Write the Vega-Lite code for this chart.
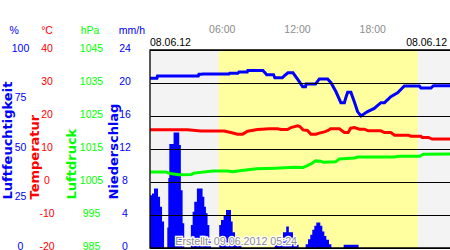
{
  "$schema": "https://vega.github.io/schema/vega-lite/v6.json",
  "width": 301,
  "height": 198,
  "autosize": {"type": "none"},
  "padding": {"left": 150, "top": 50, "right": 0, "bottom": 2},
  "background": "white",
  "config": {
    "view": {"stroke": null},
    "font": "Liberation Sans",
    "axis": {"labelFont": "Liberation Sans", "titleFont": "DejaVu Sans"},
    "text": {"font": "Liberation Sans", "fontSize": 10.5, "baseline": "middle"}
  },
  "datasets": {
    "bands": [
      {"from": 0, "to": 24, "band": "Nacht"},
      {"from": 5.47, "to": 21.35, "band": "Tag"}
    ],
    "hours": [
      {"t": 6, "label": "06:00"},
      {"t": 12, "label": "12:00"},
      {"t": 18, "label": "18:00"}
    ],
    "humidity": [
      {"t": 0, "v": 85.7}, {"t": 0.55, "v": 85.7}, {"t": 0.6, "v": 86.9}, {"t": 3.85, "v": 86.9},
      {"t": 3.9, "v": 87.7}, {"t": 4.1, "v": 87.7}, {"t": 4.2, "v": 87.9}, {"t": 6.3, "v": 87.9},
      {"t": 6.35, "v": 88.2}, {"t": 7.0, "v": 88.2}, {"t": 7.1, "v": 88.9}, {"t": 7.75, "v": 88.9},
      {"t": 7.8, "v": 89.7}, {"t": 9.0, "v": 89.7}, {"t": 9.15, "v": 88.7}, {"t": 9.3, "v": 87.5},
      {"t": 9.85, "v": 87.5}, {"t": 9.95, "v": 86.0}, {"t": 10.55, "v": 86.0}, {"t": 10.7, "v": 86.9},
      {"t": 11.0, "v": 88.5}, {"t": 11.4, "v": 88.5}, {"t": 11.85, "v": 84.5}, {"t": 12.17, "v": 81.5},
      {"t": 12.4, "v": 81.5}, {"t": 12.45, "v": 82.8}, {"t": 13.2, "v": 82.8}, {"t": 13.5, "v": 85.4},
      {"t": 14.16, "v": 85.4}, {"t": 14.43, "v": 83.5}, {"t": 14.83, "v": 78.9}, {"t": 15.22, "v": 73.4},
      {"t": 15.5, "v": 73.4}, {"t": 15.6, "v": 75.6}, {"t": 15.76, "v": 78.6}, {"t": 16.02, "v": 78.6},
      {"t": 16.29, "v": 73.9}, {"t": 16.55, "v": 68.9}, {"t": 16.82, "v": 66.7}, {"t": 17.35, "v": 68.9},
      {"t": 17.88, "v": 70.5}, {"t": 18.41, "v": 73.4}, {"t": 18.7, "v": 73.4}, {"t": 19.2, "v": 76.4},
      {"t": 19.74, "v": 78.4}, {"t": 20.28, "v": 81.8}, {"t": 21.47, "v": 81.8}, {"t": 21.6, "v": 80.8},
      {"t": 22.4, "v": 80.8}, {"t": 22.6, "v": 82.0}, {"t": 24, "v": 82.0}
    ],
    "temperature": [
      {"t": 0, "v": 15.8}, {"t": 3.0, "v": 15.8}, {"t": 4.06, "v": 15.45}, {"t": 5.9, "v": 15.45},
      {"t": 6.45, "v": 15.0}, {"t": 6.98, "v": 14.5}, {"t": 7.38, "v": 14.5}, {"t": 7.78, "v": 15.4},
      {"t": 8.58, "v": 15.9}, {"t": 9.51, "v": 16.1}, {"t": 10.18, "v": 16.1}, {"t": 10.44, "v": 15.9},
      {"t": 10.97, "v": 15.9}, {"t": 11.24, "v": 16.5}, {"t": 11.77, "v": 17.0}, {"t": 11.95, "v": 16.8},
      {"t": 12.2, "v": 15.8}, {"t": 12.55, "v": 15.6}, {"t": 12.83, "v": 14.5}, {"t": 13.23, "v": 14.5},
      {"t": 13.5, "v": 14.8}, {"t": 13.9, "v": 15.2}, {"t": 14.2, "v": 15.6}, {"t": 14.4, "v": 16.1},
      {"t": 15.1, "v": 16.1}, {"t": 15.5, "v": 15.0}, {"t": 15.8, "v": 15.0}, {"t": 16.0, "v": 16.3},
      {"t": 16.3, "v": 16.5}, {"t": 16.7, "v": 16.0}, {"t": 17.1, "v": 16.0}, {"t": 17.4, "v": 15.5},
      {"t": 18.4, "v": 15.5}, {"t": 18.7, "v": 15.0}, {"t": 19.2, "v": 15.0}, {"t": 19.5, "v": 14.2},
      {"t": 20.6, "v": 14.2}, {"t": 20.8, "v": 13.9}, {"t": 21.6, "v": 13.9}, {"t": 21.7, "v": 13.5},
      {"t": 22.2, "v": 13.5}, {"t": 22.5, "v": 13.0}, {"t": 24, "v": 13.0}
    ],
    "pressure": [
      {"t": 0, "v": 1008.0}, {"t": 1.3, "v": 1008.0}, {"t": 1.6, "v": 1007.6}, {"t": 2.3, "v": 1007.2},
      {"t": 3.3, "v": 1007.3}, {"t": 3.5, "v": 1007.7}, {"t": 5.0, "v": 1008.3}, {"t": 6.2, "v": 1008.3},
      {"t": 6.6, "v": 1008.1}, {"t": 7.3, "v": 1008.5}, {"t": 8.5, "v": 1009.0}, {"t": 10.0, "v": 1009.2},
      {"t": 11.5, "v": 1009.5}, {"t": 12.2, "v": 1009.4}, {"t": 12.5, "v": 1009.9}, {"t": 12.9, "v": 1010.6},
      {"t": 13.2, "v": 1011.4}, {"t": 13.6, "v": 1011.3}, {"t": 13.8, "v": 1011.0}, {"t": 14.8, "v": 1011.1},
      {"t": 15.1, "v": 1012.0}, {"t": 16.3, "v": 1012.3}, {"t": 16.6, "v": 1012.6}, {"t": 19.5, "v": 1012.6},
      {"t": 19.8, "v": 1012.8}, {"t": 21.5, "v": 1012.8}, {"t": 21.8, "v": 1013.4}, {"t": 24, "v": 1013.5}
    ],
    "precipitation": [
      {"t": 0, "v": 6.4}, {"t": 0.16, "v": 6.6}, {"t": 0.32, "v": 7.2}, {"t": 0.64, "v": 6.2},
      {"t": 0.8, "v": 5.0}, {"t": 0.96, "v": 3.2}, {"t": 1.12, "v": 0}, {"t": 1.38, "v": 2.5},
      {"t": 1.46, "v": 8.5}, {"t": 1.54, "v": 12.6}, {"t": 1.88, "v": 14.0}, {"t": 2.33, "v": 12.5},
      {"t": 2.46, "v": 7.0}, {"t": 2.6, "v": 3.0}, {"t": 2.73, "v": 0}, {"t": 3.26, "v": 2.8},
      {"t": 3.4, "v": 4.4}, {"t": 3.53, "v": 5.6}, {"t": 3.74, "v": 7.2}, {"t": 4.19, "v": 6.2},
      {"t": 4.33, "v": 5.0}, {"t": 4.46, "v": 4.2}, {"t": 4.59, "v": 2.8}, {"t": 4.73, "v": 1.2},
      {"t": 4.86, "v": 0}, {"t": 5.52, "v": 2.8}, {"t": 5.66, "v": 3.4}, {"t": 5.87, "v": 4.0},
      {"t": 6.06, "v": 4.6}, {"t": 6.46, "v": 3.2}, {"t": 6.59, "v": 1.9}, {"t": 6.78, "v": 1.0},
      {"t": 6.92, "v": 0.5}, {"t": 7.3, "v": 0}, {"t": 9.94, "v": 0.4}, {"t": 10.33, "v": 1.0},
      {"t": 10.6, "v": 1.9}, {"t": 10.86, "v": 2.6}, {"t": 11.07, "v": 1.9}, {"t": 11.4, "v": 1.0},
      {"t": 11.66, "v": 0.4}, {"t": 11.85, "v": 0}, {"t": 12.41, "v": 0.45}, {"t": 12.6, "v": 1.05},
      {"t": 12.78, "v": 1.6}, {"t": 12.94, "v": 2.2}, {"t": 13.1, "v": 2.7}, {"t": 13.26, "v": 3.1},
      {"t": 13.58, "v": 2.7}, {"t": 13.74, "v": 2.0}, {"t": 13.9, "v": 1.45}, {"t": 14.06, "v": 1.0},
      {"t": 14.27, "v": 0.45}, {"t": 14.46, "v": 0}, {"t": 15.44, "v": 0.4}, {"t": 16.63, "v": 0},
      {"t": 24, "v": 0}
    ],
    "stamp": [{"text": "Erstellt: 09.06.2012 05:24"}],
    "day": [{"date": "08.06.12"}],
    "units": [
      {"measure": "Luftfeuchtigkeit", "unit": "%"},
      {"measure": "Temperatur", "unit": "°C"},
      {"measure": "Luftdruck", "unit": "hPa"},
      {"measure": "Niederschlag", "unit": "mm/h"}
    ]
  },
  "resolve": {"scale": {"y": "independent"}},
  "layer": [
    {
      "data": {"name": "bands"},
      "transform": [{"filter": "datum.band == 'Nacht'"}],
      "mark": {"type": "rect", "color": "#f3f3f3"},
      "encoding": {
        "x": {"field": "from", "type": "quantitative", "scale": {"domain": [0, 24], "nice": false}, "axis": null},
        "x2": {"field": "to"}
      }
    },
    {
      "data": {"name": "bands"},
      "transform": [{"filter": "datum.band == 'Tag'"}],
      "mark": {"type": "rect", "color": "#ffffa0"},
      "encoding": {
        "x": {"field": "from", "type": "quantitative", "scale": {"domain": [0, 24], "nice": false}, "axis": null},
        "x2": {"field": "to"}
      }
    },
    {
      "data": {"name": "precipitation"},
      "mark": {"type": "area", "interpolate": "step-after", "color": "#0000ff"},
      "encoding": {
        "x": {"field": "t", "type": "quantitative", "scale": {"domain": [0, 24], "nice": false}, "axis": null},
        "y": {
          "field": "v", "type": "quantitative",
          "scale": {"domain": [0, 24], "nice": false, "zero": false},
          "axis": {
            "orient": "left", "values": [0, 4, 8, 12, 16, 20, 24],
            "labelExpr": "'' + datum.value",
            "grid": false, "ticks": false, "tickSize": 0, "domain": false,
            "labelColor": "#0000ff", "labelFontSize": 10.5, "labelAlign": "center", "labelBaseline": "middle",
            "labelPadding": 25.5, "labelOffset": -2, "labelOverlap": false, "labelBound": false, "labelFlush": false,
            "title": "Niederschlag", "titleColor": "#0000ff", "titleFontWeight": "bold", "titleFontSize": 13,
            "titleAngle": 270, "titleAlign": "left", "titleBaseline": "middle", "titleX": -36.7, "titleY": 149
          }
        }
      }
    },
    {
      "data": {"name": "pressure"},
      "mark": {"type": "line", "color": "#00ff00", "strokeWidth": 3},
      "encoding": {
        "x": {"field": "t", "type": "quantitative", "scale": {"domain": [0, 24], "nice": false}, "axis": null},
        "y": {
          "field": "v", "type": "quantitative",
          "scale": {"domain": [985, 1045], "nice": false, "zero": false},
          "axis": {
            "orient": "left", "values": [985, 995, 1005, 1015, 1025, 1035, 1045],
            "labelExpr": "'' + datum.value",
            "grid": false, "ticks": false, "tickSize": 0, "domain": false,
            "labelColor": "#00ff00", "labelFontSize": 10.5, "labelAlign": "center", "labelBaseline": "middle",
            "labelPadding": 59, "labelOffset": -2, "labelOverlap": false, "labelBound": false, "labelFlush": false,
            "title": "Luftdruck", "titleColor": "#00ff00", "titleFontWeight": "bold", "titleFontSize": 13,
            "titleAngle": 270, "titleAlign": "left", "titleBaseline": "middle", "titleX": -78.3, "titleY": 149
          }
        }
      }
    },
    {
      "data": {"name": "temperature"},
      "mark": {"type": "line", "color": "#ff0000", "strokeWidth": 3},
      "encoding": {
        "x": {"field": "t", "type": "quantitative", "scale": {"domain": [0, 24], "nice": false}, "axis": null},
        "y": {
          "field": "v", "type": "quantitative",
          "scale": {"domain": [-20, 40], "nice": false, "zero": false},
          "axis": {
            "orient": "left", "values": [-20, -10, 0, 10, 20, 30, 40],
            "labelExpr": "'' + datum.value",
            "grid": true, "gridColor": "#000000", "gridWidth": 1,
            "ticks": false, "tickSize": 0, "domain": false,
            "labelColor": "#ff0000", "labelFontSize": 10.5, "labelAlign": "center", "labelBaseline": "middle",
            "labelPadding": 103.5, "labelOffset": -2, "labelOverlap": false, "labelBound": false, "labelFlush": false,
            "title": "Temperatur", "titleColor": "#ff0000", "titleFontWeight": "bold", "titleFontSize": 13,
            "titleAngle": 270, "titleAlign": "left", "titleBaseline": "middle", "titleX": -115.5, "titleY": 149,
            "zindex": 1
          }
        }
      }
    },
    {
      "data": {"name": "humidity"},
      "mark": {"type": "line", "color": "#0000ff", "strokeWidth": 3},
      "encoding": {
        "x": {
          "field": "t", "type": "quantitative",
          "scale": {"domain": [0, 24], "nice": false},
          "axis": {
            "orient": "top", "title": null,
            "values": [6, 12, 18],
            "grid": true, "gridColor": "#858585", "gridWidth": 1,
            "ticks": false, "domain": false, "labels": false,
            "zindex": 1
          }
        },
        "y": {
          "field": "v", "type": "quantitative",
          "scale": {"domain": [0, 100], "nice": false, "zero": false},
          "axis": {
            "orient": "left", "values": [0, 25, 50, 75, 100],
            "labelExpr": "'' + datum.value",
            "grid": false, "ticks": false, "tickSize": 0, "domain": false,
            "labelColor": "#0000ff", "labelFontSize": 10.5, "labelAlign": "center", "labelBaseline": "middle",
            "labelPadding": 130, "labelOffset": -2, "labelOverlap": false, "labelBound": false, "labelFlush": false,
            "title": "Luftfeuchtigkeit", "titleColor": "#0000ff", "titleFontWeight": "bold", "titleFontSize": 13,
            "titleAngle": 270, "titleAlign": "left", "titleBaseline": "middle", "titleX": -142.8, "titleY": 149
          }
        }
      }
    },
    {
      "data": {"name": "bands"},
      "transform": [{"filter": "datum.band == 'Nacht'"}],
      "mark": {"type": "rect", "filled": false, "stroke": "#000000", "strokeWidth": 1.3},
      "encoding": {
        "x": {"field": "from", "type": "quantitative", "scale": {"domain": [0, 24], "nice": false}, "axis": null},
        "x2": {"field": "to"}
      }
    },
    {
      "data": {"name": "stamp"},
      "mark": {"type": "text", "fontSize": 10.7, "align": "center", "color": "#ffffff", "stroke": "#ffffff", "strokeWidth": 2.5},
      "encoding": {
        "x": {"datum": 6.87, "type": "quantitative", "scale": {"domain": [0, 24], "nice": false}, "axis": null},
        "y": {"datum": 3, "type": "quantitative", "scale": {"domain": [0, 100], "nice": false, "zero": false}, "axis": null},
        "text": {"field": "text"}
      }
    },
    {
      "data": {"name": "stamp"},
      "mark": {"type": "text", "fontSize": 10.7, "align": "center", "color": "#8c8c8c"},
      "encoding": {
        "x": {"datum": 6.87, "type": "quantitative", "scale": {"domain": [0, 24], "nice": false}, "axis": null},
        "y": {"datum": 3, "type": "quantitative", "scale": {"domain": [0, 100], "nice": false, "zero": false}, "axis": null},
        "text": {"field": "text"}
      }
    },
    {
      "data": {"name": "hours"},
      "mark": {"type": "text", "align": "center", "dx": -3, "color": "#8c8c8c"},
      "encoding": {
        "x": {"field": "t", "type": "quantitative", "scale": {"domain": [0, 24], "nice": false}, "axis": null},
        "y": {"datum": 110.1, "type": "quantitative", "scale": {"domain": [0, 100], "nice": false, "zero": false}, "axis": null},
        "text": {"field": "label"}
      }
    },
    {
      "data": {"name": "day"},
      "mark": {"type": "text", "align": "left", "color": "#000000"},
      "encoding": {
        "x": {"datum": 0, "type": "quantitative", "scale": {"domain": [0, 24], "nice": false}, "axis": null},
        "y": {"datum": 103.3, "type": "quantitative", "scale": {"domain": [0, 100], "nice": false, "zero": false}, "axis": null},
        "text": {"field": "date"}
      }
    },
    {
      "data": {"name": "day"},
      "mark": {"type": "text", "align": "right", "dx": -4, "color": "#000000"},
      "encoding": {
        "x": {"datum": 24, "type": "quantitative", "scale": {"domain": [0, 24], "nice": false}, "axis": null},
        "y": {"datum": 103.3, "type": "quantitative", "scale": {"domain": [0, 100], "nice": false, "zero": false}, "axis": null},
        "text": {"field": "date"}
      }
    },
    {
      "data": {"name": "units"},
      "transform": [{"filter": "datum.unit == '%'"}],
      "mark": {"type": "text", "align": "center", "color": "#0000ff"},
      "encoding": {
        "x": {"datum": -10.84, "type": "quantitative", "scale": {"domain": [0, 24], "nice": false}, "axis": null},
        "y": {"datum": 109.75, "type": "quantitative", "scale": {"domain": [0, 100], "nice": false, "zero": false}, "axis": null},
        "text": {"field": "unit"}
      }
    },
    {
      "data": {"name": "units"},
      "transform": [{"filter": "datum.unit == '°C'"}],
      "mark": {"type": "text", "align": "center", "color": "#ff0000"},
      "encoding": {
        "x": {"datum": -8.21, "type": "quantitative", "scale": {"domain": [0, 24], "nice": false}, "axis": null},
        "y": {"datum": 109.75, "type": "quantitative", "scale": {"domain": [0, 100], "nice": false, "zero": false}, "axis": null},
        "text": {"field": "unit"}
      }
    },
    {
      "data": {"name": "units"},
      "transform": [{"filter": "datum.unit == 'hPa'"}],
      "mark": {"type": "text", "align": "center", "color": "#00ff00"},
      "encoding": {
        "x": {"datum": -4.78, "type": "quantitative", "scale": {"domain": [0, 24], "nice": false}, "axis": null},
        "y": {"datum": 109.75, "type": "quantitative", "scale": {"domain": [0, 100], "nice": false, "zero": false}, "axis": null},
        "text": {"field": "unit"}
      }
    },
    {
      "data": {"name": "units"},
      "transform": [{"filter": "datum.unit == 'mm/h'"}],
      "mark": {"type": "text", "align": "center", "color": "#0000ff"},
      "encoding": {
        "x": {"datum": -1.44, "type": "quantitative", "scale": {"domain": [0, 24], "nice": false}, "axis": null},
        "y": {"datum": 109.75, "type": "quantitative", "scale": {"domain": [0, 100], "nice": false, "zero": false}, "axis": null},
        "text": {"field": "unit"}
      }
    }
  ]
}
